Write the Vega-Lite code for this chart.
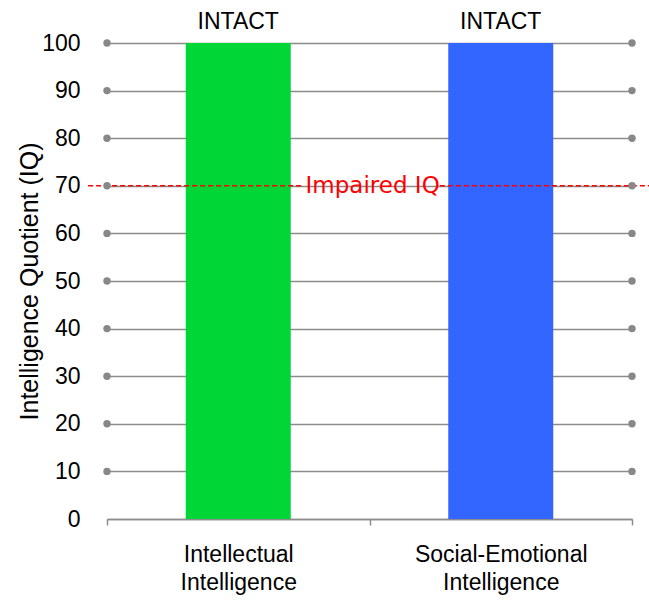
{
  "$schema": "https://vega.github.io/schema/vega-lite/v6.json",
  "width": 525,
  "height": 476,
  "autosize": "none",
  "padding": {"left": 107, "top": 43, "right": 17, "bottom": 83},
  "background": "white",
  "config": {
    "view": {"stroke": null},
    "font": "Liberation Sans"
  },
  "datasets": {
    "bars": [
      {"domain": "Intellectual Intelligence", "iq": 100, "status": "INTACT", "colour": "green"},
      {"domain": "Social-Emotional Intelligence", "iq": 100, "status": "INTACT", "colour": "blue"}
    ],
    "gridEnds": [
      {"end": 0, "iq": 10}, {"end": 1, "iq": 10},
      {"end": 0, "iq": 20}, {"end": 1, "iq": 20},
      {"end": 0, "iq": 30}, {"end": 1, "iq": 30},
      {"end": 0, "iq": 40}, {"end": 1, "iq": 40},
      {"end": 0, "iq": 50}, {"end": 1, "iq": 50},
      {"end": 0, "iq": 60}, {"end": 1, "iq": 60},
      {"end": 0, "iq": 70}, {"end": 1, "iq": 70},
      {"end": 0, "iq": 80}, {"end": 1, "iq": 80},
      {"end": 0, "iq": 90}, {"end": 1, "iq": 90},
      {"end": 0, "iq": 100}, {"end": 1, "iq": 100}
    ],
    "threshold": [
      {"from": -0.036, "to": 0.37, "iq": 70},
      {"from": 0.634, "to": 1.034, "iq": 70}
    ],
    "thresholdLabel": [
      {"pos": 0.506, "iq": 70, "label": "Impaired IQ"}
    ]
  },
  "resolve": {"scale": {"x": "independent"}, "axis": {"x": "independent"}},
  "layer": [
    {
      "data": {"name": "bars"},
      "mark": {"type": "bar", "width": {"band": 0.4}},
      "encoding": {
        "x": {
          "field": "domain",
          "type": "nominal",
          "sort": null,
          "scale": {"paddingInner": 0, "paddingOuter": 0},
          "axis": {
            "title": null,
            "labelAngle": 0,
            "labelLimit": 0,
            "labelExpr": "split(datum.label, ' ')",
            "labelFont": "Liberation Sans",
            "labelFontSize": 23,
            "labelColor": "#000000",
            "labelLineHeight": 28,
            "labelPadding": 18,
            "domainColor": "#8c8c8c",
            "domainWidth": 1.5,
            "tickColor": "#8c8c8c",
            "tickWidth": 1.5,
            "tickSize": 6,
            "tickBand": "extent",
            "grid": false
          }
        },
        "y": {
          "field": "iq",
          "type": "quantitative",
          "scale": {"domain": [0, 100], "nice": false},
          "axis": {
            "title": "Intelligence Quotient (IQ)",
            "titleFont": "Liberation Sans",
            "titleFontSize": 25,
            "titleFontWeight": "normal",
            "titleColor": "#000000",
            "titlePadding": -1,
            "values": [0, 10, 20, 30, 40, 50, 60, 70, 80, 90, 100],
            "labelFont": "Liberation Sans",
            "labelFontSize": 23,
            "labelColor": "#000000",
            "labelPadding": 27,
            "ticks": false,
            "domain": false,
            "grid": true,
            "gridColor": "#8c8c8c",
            "gridWidth": 1.5
          }
        },
        "color": {
          "field": "colour",
          "type": "nominal",
          "scale": {"domain": ["green", "blue"], "range": ["#00d636", "#3366ff"]},
          "legend": null
        }
      }
    },
    {
      "data": {"name": "bars"},
      "mark": {"type": "text", "font": "Liberation Sans", "fontSize": 23, "color": "#000000", "baseline": "alphabetic", "dy": -14},
      "encoding": {
        "x": {"field": "domain", "type": "nominal", "sort": null, "scale": {"paddingInner": 0, "paddingOuter": 0}, "axis": null},
        "y": {"field": "iq", "type": "quantitative"},
        "text": {"field": "status"}
      }
    },
    {
      "data": {"name": "threshold"},
      "mark": {"type": "rule", "color": "#ff0000", "strokeWidth": 1.5, "strokeDash": [5, 3], "clip": false},
      "encoding": {
        "x": {"field": "from", "type": "quantitative", "scale": {"domain": [0, 1], "nice": false, "zero": false}, "axis": null},
        "x2": {"field": "to"},
        "y": {"field": "iq", "type": "quantitative"}
      }
    },
    {
      "data": {"name": "thresholdLabel"},
      "mark": {"type": "text", "font": "DejaVu Sans", "fontSize": 23, "color": "#ff0000", "baseline": "middle", "align": "center"},
      "encoding": {
        "x": {"field": "pos", "type": "quantitative", "scale": {"domain": [0, 1], "nice": false, "zero": false}, "axis": null},
        "y": {"field": "iq", "type": "quantitative"},
        "text": {"field": "label"}
      }
    },
    {
      "data": {"name": "gridEnds"},
      "mark": {"type": "point", "filled": true, "size": 55, "color": "#888888", "opacity": 1, "clip": false},
      "encoding": {
        "x": {"field": "end", "type": "quantitative", "scale": {"domain": [0, 1], "nice": false, "zero": false}, "axis": null},
        "y": {"field": "iq", "type": "quantitative"}
      }
    }
  ]
}
